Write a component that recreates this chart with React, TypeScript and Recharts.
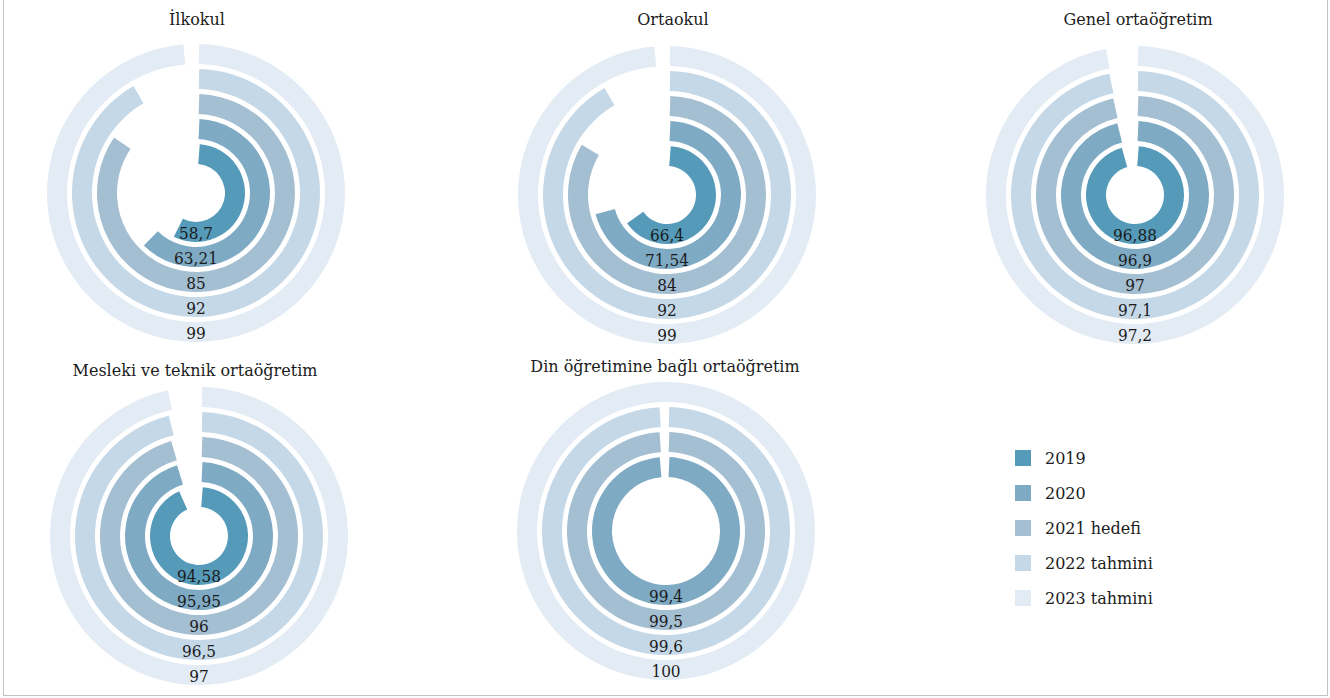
import React from "react";
import { RadialBarChart, RadialBar, PolarAngleAxis, Cell, Sector } from "recharts";

const SERIF = "'DejaVu Serif', serif";
const NUM = "'DejaVu Serif Condensed', 'DejaVu Serif', serif";
const INK = "#1c1c1c";

const years = ["2019", "2020", "2021 hedefi", "2022 tahmini", "2023 tahmini"];
const colors = ["#559bb9", "#7eaac4", "#a4bed2", "#c5d8e7", "#e3ecf4"];

const ilkokul = [58.7, 63.21, 85, 92, 99];
const ortaokul = [66.4, 71.54, 84, 92, 99];
const genel = [96.88, 96.9, 97, 97.1, 97.2];
const mesleki = [94.58, 95.95, 96, 96.5, 97];
const din = [null, 99.4, 99.5, 99.6, 100];

const titles = [
  "İlkokul",
  "Ortaokul",
  "Genel ortaöğretim",
  "Mesleki ve teknik ortaöğretim",
  "Din öğretimine bağlı ortaöğretim",
];
const series = [ilkokul, ortaokul, genel, mesleki, din];

// where each ring group sits on the page (center of rings, center of title)
const layout = [
  { x: 195.5, y: 192.5, tx: 197, ty: 20 },
  { x: 667, y: 194.5, tx: 673, ty: 20 },
  { x: 1134.5, y: 195, tx: 1138, ty: 20 },
  { x: 198.5, y: 536, tx: 195, ty: 371 },
  { x: 666, y: 531, tx: 665, ty: 367 },
];

const SIZE = 320;
const GAP = 5; // white space between rings
const INSET = 3; // white space either side of 12 o'clock

const fmt = (v: number) => String(v).replace(".", ",");

function RingShape(props: any) {
  const { cx, cy, innerRadius, outerRadius, startAngle, endAngle, fill } = props;
  const value = props.value ?? props.payload?.value;
  if (value == null || !Number.isFinite(startAngle) || !Number.isFinite(endAngle)) return null;
  const r0 = innerRadius + GAP / 2;
  const r1 = outerRadius - GAP / 2;
  const sweep = Math.abs(endAngle - startAngle);
  let s = startAngle;
  let e = endAngle;
  if (sweep < 359.9) {
    const d = ((INSET / ((r0 + r1) / 2)) * 180) / Math.PI;
    s = startAngle - d;
    e = endAngle + d;
  }
  return (
    <g>
      <Sector cx={cx} cy={cy} innerRadius={r0} outerRadius={r1} startAngle={s} endAngle={e} fill={fill} />
      <text
        x={cx}
        y={cy + (r0 + r1) / 2 + 1}
        textAnchor="middle"
        dominantBaseline="central"
        style={{ fontFamily: NUM, fontSize: 17, fill: INK }}
      >
        {fmt(value)}
      </text>
    </g>
  );
}

function RingGroup({ title, values, pos }: { title: string; values: (number | null)[]; pos: any }) {
  const data = years.map((name, i) => ({ name, value: values[i] }));
  return (
    <>
      <div
        style={{
          position: "absolute",
          left: pos.tx - 200,
          top: pos.ty - 11,
          width: 400,
          lineHeight: "22px",
          textAlign: "center",
          fontFamily: SERIF,
          fontSize: 16,
          color: INK,
        }}
      >
        {title}
      </div>
      <div style={{ position: "absolute", left: pos.x - SIZE / 2, top: pos.y - SIZE / 2 }}>
        <RadialBarChart
          width={SIZE}
          height={SIZE}
          cx={SIZE / 2}
          cy={SIZE / 2}
          innerRadius={26.5}
          outerRadius={151.5}
          startAngle={90}
          endAngle={-270}
          barCategoryGap={0}
          data={data}
          margin={{ top: 0, right: 0, bottom: 0, left: 0 }}
        >
          <PolarAngleAxis type="number" domain={[0, 100]} tick={false} axisLine={false} tickLine={false} />
          <RadialBar dataKey="value" isAnimationActive={false} shape={(p: any) => <RingShape {...p} />}>
            {data.map((d, i) => (
              <Cell key={d.name} fill={colors[i]} />
            ))}
          </RadialBar>
        </RadialBarChart>
      </div>
    </>
  );
}

export default function App() {
  return (
    <div style={{ position: "absolute", left: 0, top: 0, width: 1330, height: 698, background: "#fff", overflow: "hidden" }}>
      <div
        style={{
          position: "absolute",
          left: 3,
          top: -10,
          width: 1323,
          height: 704,
          border: "1px solid #c2c2c2",
        }}
      />
      {series.map((values, i) => (
        <RingGroup key={titles[i]} title={titles[i]} values={values} pos={layout[i]} />
      ))}
      <div style={{ position: "absolute", left: 1015, top: 450 }}>
        {years.map((y, i) => (
          <div key={y} style={{ display: "flex", alignItems: "center", height: 35, marginTop: i === 0 ? -9.5 : 0 }}>
            <span style={{ width: 16, height: 16, background: colors[i], display: "inline-block" }} />
            <span style={{ marginLeft: 14, fontFamily: SERIF, fontSize: 16, color: INK }}>{y}</span>
          </div>
        ))}
      </div>
    </div>
  );
}
